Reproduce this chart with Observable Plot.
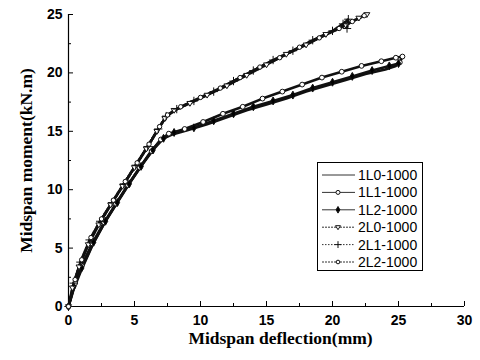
<!DOCTYPE html>
<html><head><meta charset="utf-8">
<script src="https://cdn.jsdelivr.net/npm/d3@7"></script>
<script src="https://cdn.jsdelivr.net/npm/@observablehq/plot@0.6"></script>
<style>body{margin:0;background:#fff} #chart{width:480px;height:360px}</style>
</head><body><div id="chart"></div>
<script>
const xTicks = [0, 5, 10, 15, 20, 25, 30];
const yTicks = [0, 5, 10, 15, 20, 25];
const xMinor = [2.5, 7.5, 12.5, 17.5, 22.5, 27.5];
const yMinor = [2.5, 7.5, 12.5, 17.5, 22.5];
const seriesNames = ["1L0-1000", "1L1-1000", "1L2-1000", "2L0-1000", "2L1-1000", "2L2-1000"];

const s1L0 = [[0,0],[0.4,1.5],[1,3.2],[1.8,5.2],[2.6,6.9],[3.5,8.6],[4.4,10.2],[5.3,11.7],[6.2,13.2],[7,14.3],[7.8,14.7],[9,15.1],[10.5,15.6],[12,16.2],[13.5,16.8],[15,17.3],[16.5,17.8],[18,18.4],[19.5,18.9],[21,19.4],[22.5,19.9],[24,20.3],[24.8,20.6]];
const s1L1 = [[0,0],[0.5,2],[1,3.5],[1.8,5.4],[2.7,7.2],[3.6,8.8],[4.5,10.4],[5.4,11.9],[6.3,13.3],[7,14.3],[7.6,14.8],[8.8,15.2],[10.2,15.8],[11.7,16.5],[13.2,17.1],[14.7,17.8],[16.2,18.4],[17.7,19.0],[19.2,19.6],[20.7,20.1],[22.2,20.6],[23.7,21.0],[24.8,21.3],[25.3,21.4],[25.1,20.9]];
const s1L2 = [[0,0],[0.4,1.7],[1,3.3],[1.9,5.5],[2.8,7.3],[3.7,8.9],[4.6,10.5],[5.5,12],[6.4,13.4],[7.2,14.4],[8,14.9],[9.5,15.3],[11,15.9],[12.5,16.5],[14,17.1],[15.5,17.6],[17,18.1],[18.5,18.7],[20,19.2],[21.5,19.7],[23,20.2],[24.3,20.6],[25,20.8]];
const s2L0 = [[0,0],[0.3,1.6],[0.8,3.4],[1.5,5.3],[2.3,7],[3.2,8.7],[4.1,10.3],[5,11.9],[5.9,13.5],[6.7,15],[7.3,16.1],[8,16.8],[9.2,17.4],[10.5,18.1],[12,18.9],[13.5,19.8],[15,20.7],[16.5,21.6],[18,22.4],[19.5,23.3],[21,24.1],[22,24.7],[22.6,25]];
const s2L1 = [[0,0],[0.4,2],[0.9,3.8],[1.6,5.7],[2.4,7.3],[3.3,8.9],[4.2,10.5],[5.1,12.1],[6,13.7],[6.8,15.2],[7.4,16.3],[8.2,16.9],[9.5,17.6],[11,18.4],[12.5,19.3],[14,20.2],[15.5,21.1],[17,21.9],[18.5,22.8],[20,23.6],[20.8,24.2],[21.2,24.6],[21.1,23.8]];
const s2L2 = [[0,0],[0.5,2.3],[1,4],[1.7,5.9],[2.5,7.5],[3.4,9.1],[4.3,10.7],[5.2,12.3],[6.1,13.9],[6.9,15.4],[7.5,16.4],[8.5,17.1],[10,17.9],[11.5,18.7],[13,19.6],[14.5,20.5],[16,21.3],[17.5,22.2],[19,23],[20.5,23.8],[21.5,24.4],[22.4,24.9]];
const seriesData = [s1L0, s1L1, s1L2, s2L0, s2L1, s2L2];

const triDown = {draw(ctx, size) { const r = Math.sqrt(size / Math.PI) * 1.2;
  ctx.moveTo(-r, -r * 0.6); ctx.lineTo(r, -r * 0.6); ctx.lineTo(0, r); ctx.closePath(); }};
const styles = [
  {symbol: null, dash: null},
  {symbol: "circle", fill: "white", r: 2.4, dash: null},
  {symbol: "diamond", fill: "black", r: 2.4, dash: null},
  {symbol: triDown, fill: "white", r: 2.5, dash: "2,1"},
  {symbol: "plus", fill: "black", r: 2.8, dash: "1.5,1.5"},
  {symbol: "circle", fill: "white", r: 2.2, dash: "2,1"}
];

const rows = seriesNames.flatMap((name, i) => seriesData[i].map(([x, y]) => ({series: name, x, y})));

const marks = [
  Plot.ruleX([0], {stroke: "black", strokeWidth: 1.2}),
  Plot.ruleY([0], {stroke: "black", strokeWidth: 1.2}),
  Plot.tickX(xTicks, {x: d => d, insetTop: 287, stroke: "black"}),
  Plot.tickX(xMinor, {x: d => d, insetTop: 289, stroke: "black"}),
  Plot.tickY(yTicks, {y: d => d, insetRight: 391, stroke: "black"}),
  Plot.tickY(yMinor, {y: d => d, insetRight: 393, stroke: "black"}),
  Plot.axisX({ticks: xTicks, tickSize: 0, tickPadding: 9, label: null, fontSize: 14, fontWeight: "bold"}),
  Plot.axisY({ticks: yTicks, tickSize: 0, tickPadding: 6, label: null, fontSize: 14, fontWeight: "bold"}),
  Plot.text(["Midspan deflection(mm)"], {frameAnchor: "bottom", textAnchor: "middle", dy: 37, dx: 14, fontFamily: "Liberation Serif", fontWeight: "bold", fontSize: 17.5}),
  Plot.text(["Midspan moment(kN.m)"], {frameAnchor: "left", textAnchor: "middle", rotate: -90, dx: -42, fontFamily: "Liberation Serif", fontWeight: "bold", fontSize: 17.5})
];
seriesNames.forEach((name, i) => {
  const d = rows.filter(r => r.series === name);
  const st = styles[i];
  marks.push(Plot.line(d, {x: "x", y: "y", stroke: "#111", strokeWidth: 2.6, strokeDasharray: st.dash}));
});
seriesNames.forEach((name, i) => {
  const d = rows.filter(r => r.series === name);
  const st = styles[i];
  if (st.symbol) marks.push(Plot.dot(d, {x: "x", y: "y", symbol: st.symbol, r: st.r, fill: st.fill, stroke: "#111", strokeWidth: 1}));
});

const chart = Plot.plot({
  width: 480, height: 360,
  marginLeft: 68, marginRight: 16, marginTop: 14, marginBottom: 54,
  x: {domain: [0, 30]},
  y: {domain: [0, 25]},
  style: {fontFamily: "Liberation Sans", fontSize: "14px", color: "black", background: "white"},
  marks
});
document.getElementById("chart").appendChild(chart);

// legend
const svg = d3.select(chart);
const lg = svg.append("g").attr("text-anchor", "start");
lg.append("rect").attr("x", 317.5).attr("y", 162.5).attr("width", 105).attr("height", 108)
  .attr("fill", "white").attr("stroke", "black").attr("stroke-width", 1);
seriesNames.forEach((name, i) => {
  const y = 175 + i * 17.4;
  const st = styles[i];
  lg.append("line").attr("x1", 322).attr("x2", 355).attr("y1", y).attr("y2", y)
    .attr("stroke", "#333").attr("stroke-width", 1).attr("stroke-dasharray", st.dash);
  if (st.symbol) {
    const sym = typeof st.symbol === "string"
      ? {circle: d3.symbolCircle, diamond: d3.symbolDiamond, plus: d3.symbolPlus}[st.symbol]
      : st.symbol;
    const size = st.r * st.r * Math.PI * 0.7;
    lg.append("path").attr("transform", `translate(338,${y})`)
      .attr("d", d3.symbol(sym, size)())
      .attr("fill", st.symbol === "plus" ? "none" : st.fill).attr("stroke", "#111").attr("stroke-width", 1);
  }
  lg.append("text").attr("x", 358).attr("y", y).attr("dy", "0.35em").attr("text-anchor", "start")
    .attr("font-family", "Liberation Sans").attr("font-size", 14).attr("fill", "black").text(name);
});
</script>
</body></html>
